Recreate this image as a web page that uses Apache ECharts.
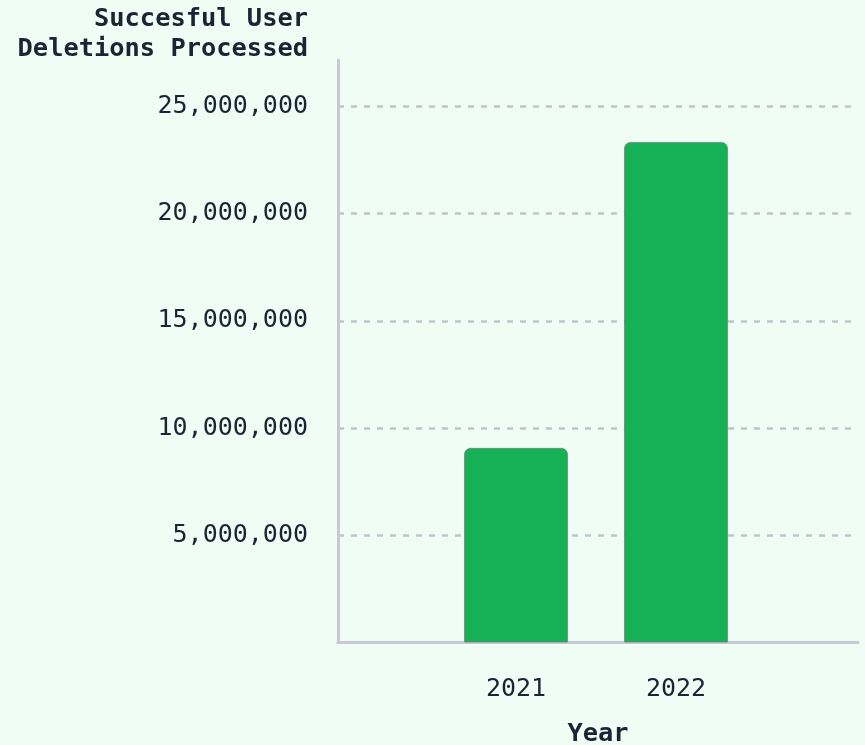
<!DOCTYPE html>
<html>
<head>
<meta charset="utf-8">
<script src="https://cdn.jsdelivr.net/npm/echarts@6/dist/echarts.min.js"></script>
<style>
html,body{margin:0;padding:0;background:#effdf4;}
#chart{width:865px;height:745px;}
</style>
</head>
<body>
<div id="chart"></div>
<script>
const years = [2021, 2022];
const deletions = [9080000, 23350000];
const yTicks = [5000000, 10000000, 15000000, 20000000, 25000000];
const yAxisTitle = 'Succesful User\nDeletions Processed';
const xAxisTitle = 'Year';

const font = '"DejaVu Sans Mono", monospace';
const textColor = '#1b2434';
const chart = echarts.init(document.getElementById('chart'));
chart.setOption({
  backgroundColor: '#effdf4',
  animation: false,
  grid: {left: 338, right: 7, top: 60, bottom: 102.5, containLabel: false, outerBoundsMode: 'none'},
  xAxis: {
    type: 'value',
    min: 2019.8875,
    max: 2023.1375,
    name: xAxisTitle,
    nameLocation: 'middle',
    nameGap: 79,
    nameTextStyle: {fontFamily: font, fontSize: 25.4, fontWeight: 'bold', color: textColor},
    axisLine: {show: true, lineStyle: {color: '#c8cad3', width: 3}},
    axisTick: {show: false},
    splitLine: {show: false},
    axisLabel: {
      customValues: years,
      margin: 34,
      fontFamily: font, fontSize: 25, color: textColor,
      formatter: v => String(v)
    }
  },
  yAxis: {
    type: 'value',
    min: 0,
    max: 27170000,
    interval: 5000000,
    name: yAxisTitle,
    nameLocation: 'end',
    nameGap: -4,
    nameTextStyle: {fontFamily: font, fontSize: 25.4, fontWeight: 'bold', color: textColor,
      align: 'right', verticalAlign: 'bottom', lineHeight: 30, padding: [0, 30, 0, 0]},
    axisLine: {show: true, lineStyle: {color: '#c8cad3', width: 3}},
    axisTick: {show: false},
    axisLabel: {
      showMinLabel: false, showMaxLabel: false,
      margin: 30,
      fontFamily: font, fontSize: 25, color: textColor,
      formatter: v => yTicks.includes(v) ? v.toLocaleString('en-US') : ''
    },
    splitLine: {show: true, showMinLine: false, showMaxLine: false,
      lineStyle: {color: '#c1c4cc', width: 2.5, type: [6, 7]}}
  },
  series: [{
    type: 'bar',
    data: years.map((y, i) => [y, deletions[i]]),
    barWidth: 104,
    itemStyle: {color: '#17b155', borderColor: 'rgba(110,120,125,0.7)', borderWidth: 1, borderRadius: [6, 6, 0, 0]}
  }]
});
</script>
</body>
</html>
